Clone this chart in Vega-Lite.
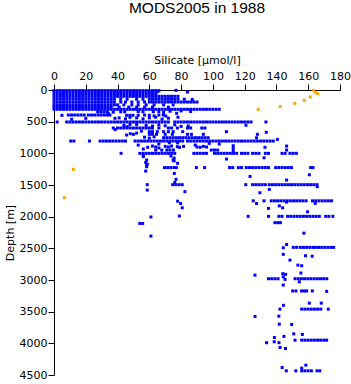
{
"$schema":"https://vega.github.io/schema/vega-lite/v6.json",
"width":286,"height":285,
"autosize":{"type":"none"},
"padding":{"left":54,"top":90,"right":11,"bottom":9},
"title":{"text":"MODS2005 in 1988","fontSize":15.5,"font":"Liberation Sans","fontWeight":"normal","color":"black","anchor":"middle","offset":38},
"config":{"view":{"stroke":null},"title":{"fontWeight":"normal","font":"Liberation Sans"},"axis":{"grid":false,"domainColor":"black","tickColor":"black","labelColor":"black","titleColor":"black","labelFont":"DejaVu Sans","titleFont":"DejaVu Sans","labelFontSize":11,"titleFontSize":11,"titleFontWeight":"normal","tickSize":6,"labelFlush":false,"labelOverlap":false}},
"datasets":{
"blue":[
{"si":0,"depth":10},{"si":2,"depth":10},{"si":4,"depth":10},{"si":6,"depth":10},{"si":8,"depth":10},{"si":10,"depth":10},{"si":12,"depth":10},{"si":14,"depth":10},{"si":16,"depth":10},{"si":18,"depth":10},{"si":20,"depth":10},{"si":22,"depth":10},{"si":24,"depth":10},{"si":26,"depth":10},{"si":28,"depth":10},{"si":30,"depth":10},{"si":32,"depth":10},{"si":34,"depth":10},{"si":36,"depth":10},{"si":38,"depth":10},{"si":40,"depth":10},{"si":42,"depth":10},{"si":44,"depth":10},{"si":46,"depth":10},{"si":48,"depth":10},{"si":50,"depth":10},{"si":52,"depth":10},{"si":54,"depth":10},{"si":56,"depth":10},{"si":58,"depth":10},{"si":60,"depth":10},{"si":62,"depth":10},{"si":64,"depth":10},{"si":66,"depth":10},
{"si":65,"depth":30},{"si":76.8,"depth":5},{"si":84,"depth":32},
{"si":0,"depth":55},{"si":2,"depth":55},{"si":4,"depth":55},{"si":6,"depth":55},{"si":8,"depth":55},{"si":10,"depth":55},{"si":12,"depth":55},{"si":14,"depth":55},{"si":16,"depth":55},{"si":18,"depth":55},{"si":20,"depth":55},{"si":22,"depth":55},{"si":24,"depth":55},{"si":26,"depth":55},{"si":28,"depth":55},{"si":30,"depth":55},{"si":32,"depth":55},{"si":34,"depth":55},{"si":36,"depth":55},{"si":38,"depth":55},{"si":40,"depth":55},{"si":42,"depth":55},{"si":44,"depth":55},{"si":46,"depth":55},{"si":48,"depth":55},{"si":50,"depth":55},{"si":52,"depth":55},{"si":54,"depth":55},{"si":56,"depth":55},{"si":58,"depth":55},{"si":60,"depth":55},{"si":62,"depth":55},{"si":64,"depth":55},
{"si":0,"depth":100},{"si":2,"depth":100},{"si":4,"depth":100},{"si":6,"depth":100},{"si":8,"depth":100},{"si":10,"depth":100},{"si":12,"depth":100},{"si":14,"depth":100},{"si":16,"depth":100},{"si":18,"depth":100},{"si":20,"depth":100},{"si":22,"depth":100},{"si":24,"depth":100},{"si":26,"depth":100},{"si":28,"depth":100},{"si":30,"depth":100},{"si":32,"depth":100},{"si":34,"depth":100},{"si":36,"depth":100},{"si":38,"depth":100},{"si":40,"depth":100},{"si":42,"depth":100},{"si":44,"depth":100},{"si":46,"depth":100},{"si":48,"depth":100},{"si":50,"depth":100},{"si":52,"depth":100},{"si":54,"depth":100},{"si":56,"depth":100},{"si":58,"depth":100},{"si":60,"depth":100},{"si":62,"depth":100},{"si":64,"depth":100},{"si":66,"depth":100},{"si":68,"depth":100},{"si":70,"depth":100},{"si":72,"depth":100},{"si":74,"depth":100},{"si":76,"depth":100},{"si":78,"depth":100},
{"si":0,"depth":145},{"si":2,"depth":145},{"si":4,"depth":145},{"si":6,"depth":145},{"si":8,"depth":145},{"si":10,"depth":145},{"si":12,"depth":145},{"si":14,"depth":145},{"si":16,"depth":145},{"si":18,"depth":145},{"si":20,"depth":145},{"si":22,"depth":145},{"si":24,"depth":145},{"si":26,"depth":145},{"si":28,"depth":145},{"si":30,"depth":145},{"si":32,"depth":145},{"si":34,"depth":145},{"si":36,"depth":145},{"si":38,"depth":145},{"si":42,"depth":145},{"si":46,"depth":145},{"si":52,"depth":145},{"si":56,"depth":145},{"si":60,"depth":145},{"si":62,"depth":145},{"si":64,"depth":145},{"si":66,"depth":145},{"si":68,"depth":145},{"si":70,"depth":145},{"si":72,"depth":145},{"si":74,"depth":145},{"si":76,"depth":145},{"si":78,"depth":145},{"si":82,"depth":145},{"si":87,"depth":150},
{"si":0,"depth":190},{"si":2,"depth":190},{"si":4,"depth":190},{"si":6,"depth":190},{"si":8,"depth":190},{"si":10,"depth":190},{"si":12,"depth":190},{"si":14,"depth":190},{"si":16,"depth":190},{"si":18,"depth":190},{"si":20,"depth":190},{"si":22,"depth":190},{"si":24,"depth":190},{"si":26,"depth":190},{"si":28,"depth":190},{"si":30,"depth":190},{"si":32,"depth":190},{"si":34,"depth":190},{"si":36,"depth":190},{"si":38,"depth":190},{"si":42,"depth":190},{"si":45,"depth":190},{"si":49,"depth":190},{"si":53,"depth":190},{"si":57,"depth":190},{"si":60,"depth":190},{"si":62,"depth":190},{"si":64,"depth":190},{"si":66,"depth":190},{"si":68,"depth":190},{"si":70,"depth":190},{"si":72,"depth":190},{"si":74,"depth":190},{"si":76,"depth":190},{"si":78,"depth":190},{"si":80,"depth":190},{"si":82,"depth":190},{"si":84,"depth":190},{"si":86,"depth":190},{"si":88,"depth":190},{"si":90,"depth":190},
{"si":0,"depth":235},{"si":2,"depth":235},{"si":4,"depth":235},{"si":6,"depth":235},{"si":8,"depth":235},{"si":10,"depth":235},{"si":12,"depth":235},{"si":14,"depth":235},{"si":16,"depth":235},{"si":18,"depth":235},{"si":20,"depth":235},{"si":22,"depth":235},{"si":24,"depth":235},{"si":26,"depth":235},{"si":28,"depth":235},{"si":30,"depth":235},{"si":32,"depth":235},{"si":34,"depth":235},{"si":36,"depth":235},{"si":38,"depth":235},{"si":40,"depth":235},{"si":44,"depth":235},{"si":49,"depth":235},{"si":53,"depth":235},{"si":58,"depth":235},{"si":63,"depth":235},{"si":69,"depth":235},{"si":75,"depth":235},
{"si":0,"depth":270},{"si":2,"depth":270},{"si":4,"depth":270},{"si":6,"depth":270},{"si":8,"depth":270},{"si":10,"depth":270},{"si":12,"depth":270},{"si":14,"depth":270},{"si":16,"depth":270},{"si":18,"depth":270},{"si":20,"depth":270},{"si":22,"depth":270},{"si":24,"depth":270},{"si":26,"depth":270},{"si":28,"depth":270},{"si":30,"depth":270},{"si":32,"depth":270},{"si":34,"depth":270},{"si":36,"depth":270},{"si":41,"depth":270},{"si":47,"depth":270},{"si":52,"depth":270},{"si":57,"depth":270},{"si":62,"depth":270},{"si":72,"depth":270},
{"si":0,"depth":305},{"si":2,"depth":305},{"si":4,"depth":305},{"si":6,"depth":305},{"si":8,"depth":305},{"si":10,"depth":305},{"si":12,"depth":305},{"si":14,"depth":305},{"si":16,"depth":305},{"si":18,"depth":305},{"si":20,"depth":305},{"si":22,"depth":305},{"si":24,"depth":305},{"si":26,"depth":305},{"si":28,"depth":305},{"si":30,"depth":305},{"si":32,"depth":305},{"si":34,"depth":305},{"si":36,"depth":305},{"si":38,"depth":305},{"si":40,"depth":305},{"si":42,"depth":305},{"si":44,"depth":305},{"si":46,"depth":305},{"si":48,"depth":305},{"si":50,"depth":305},{"si":52,"depth":305},{"si":54,"depth":305},{"si":56,"depth":305},{"si":58,"depth":305},{"si":60,"depth":305},{"si":62,"depth":305},{"si":64,"depth":305},{"si":66,"depth":305},{"si":68,"depth":305},{"si":70,"depth":305},{"si":72,"depth":305},{"si":74,"depth":305},{"si":76,"depth":305},{"si":78,"depth":305},{"si":80,"depth":305},{"si":82,"depth":305},{"si":84,"depth":305},{"si":86,"depth":305},{"si":88,"depth":305},{"si":90,"depth":305},{"si":92,"depth":305},{"si":94,"depth":305},{"si":96,"depth":305},{"si":98,"depth":305},{"si":100,"depth":305},{"si":102,"depth":305},{"si":104,"depth":305},
{"si":27.5,"depth":345},{"si":29.5,"depth":345},{"si":31.5,"depth":345},{"si":33.5,"depth":345},{"si":37.3,"depth":350},{"si":42,"depth":345},{"si":44.5,"depth":345},{"si":53,"depth":340},{"si":56,"depth":345},{"si":62.5,"depth":343},{"si":66,"depth":340},{"si":69,"depth":355},{"si":73,"depth":335},{"si":77.2,"depth":368},{"si":80,"depth":330},{"si":86,"depth":340},{"si":34.2,"depth":370},
{"si":5,"depth":400},{"si":9,"depth":395},{"si":11,"depth":395},{"si":13,"depth":395},{"si":15,"depth":395},{"si":17,"depth":395},{"si":19,"depth":395},{"si":21.6,"depth":395},{"si":23.6,"depth":395},{"si":25.6,"depth":395},{"si":27.7,"depth":395},{"si":29.7,"depth":395},{"si":31.7,"depth":395},{"si":33.7,"depth":395},{"si":35.2,"depth":395},{"si":45.7,"depth":400},{"si":47.7,"depth":400},{"si":49.7,"depth":400},{"si":53,"depth":400},{"si":57,"depth":395},{"si":60,"depth":400},{"si":63,"depth":410},{"si":66,"depth":395},{"si":68.8,"depth":395},{"si":70.3,"depth":410},
{"si":11.1,"depth":463},{"si":20,"depth":447},{"si":38.4,"depth":447},{"si":41,"depth":440},{"si":45,"depth":455},{"si":47.8,"depth":432},{"si":52,"depth":440},{"si":56,"depth":455},{"si":60,"depth":440},{"si":64,"depth":430},{"si":68,"depth":460},{"si":72,"depth":445},{"si":78,"depth":430},
{"si":2,"depth":505},{"si":8,"depth":505},{"si":10,"depth":505},{"si":12,"depth":505},{"si":14,"depth":505},{"si":16,"depth":505},{"si":18,"depth":505},{"si":20,"depth":505},{"si":22,"depth":505},{"si":24,"depth":505},{"si":26,"depth":505},{"si":28,"depth":505},{"si":30,"depth":505},{"si":32,"depth":505},{"si":34,"depth":505},{"si":36,"depth":505},{"si":38,"depth":505},{"si":40,"depth":505},{"si":42,"depth":505},{"si":44,"depth":505},{"si":46,"depth":505},{"si":48,"depth":505},{"si":50,"depth":505},{"si":52,"depth":505},{"si":54,"depth":505},{"si":56,"depth":505},{"si":58,"depth":505},{"si":60,"depth":505},{"si":62,"depth":505},{"si":64,"depth":505},{"si":66,"depth":505},{"si":68,"depth":505},{"si":70,"depth":505},{"si":72,"depth":505},{"si":76,"depth":505},{"si":78,"depth":505},{"si":80,"depth":505},{"si":82,"depth":505},{"si":84,"depth":505},{"si":86,"depth":505},{"si":88,"depth":505},{"si":90,"depth":505},{"si":92,"depth":505},{"si":94,"depth":505},{"si":96,"depth":505},{"si":98,"depth":505},{"si":100,"depth":505},{"si":102,"depth":505},{"si":104,"depth":505},{"si":106,"depth":505},{"si":108,"depth":505},{"si":110,"depth":505},{"si":112,"depth":505},{"si":114,"depth":505},{"si":116,"depth":505},{"si":118,"depth":505},{"si":120,"depth":505},{"si":122,"depth":505},{"si":124,"depth":505},{"si":133.4,"depth":505},
{"si":44,"depth":560},{"si":46,"depth":580},{"si":47.8,"depth":545},{"si":52,"depth":545},{"si":58,"depth":560},{"si":62,"depth":570},{"si":66,"depth":550},{"si":70,"depth":565},{"si":76,"depth":550},{"si":80,"depth":575},{"si":84.5,"depth":569},{"si":120.8,"depth":557},
{"si":37.3,"depth":600},{"si":40,"depth":600},{"si":42,"depth":600},{"si":44,"depth":600},{"si":46,"depth":600},{"si":48,"depth":600},{"si":50,"depth":600},{"si":52,"depth":600},{"si":54,"depth":600},{"si":56,"depth":600},{"si":58,"depth":600},{"si":60,"depth":600},{"si":62,"depth":600},{"si":66,"depth":600},{"si":72,"depth":600},{"si":74,"depth":600},{"si":77.6,"depth":600},{"si":84,"depth":600},{"si":86,"depth":600},{"si":93,"depth":600},{"si":95,"depth":600},{"si":38.5,"depth":625},
{"si":60,"depth":658},{"si":62,"depth":658},{"si":65,"depth":658},{"si":69,"depth":658},{"si":72,"depth":658},{"si":75,"depth":658},{"si":81,"depth":658},{"si":108.5,"depth":658},{"si":60,"depth":700},{"si":62,"depth":700},{"si":64.5,"depth":700},{"si":70,"depth":700},{"si":74.5,"depth":700},{"si":84,"depth":700},{"si":86.5,"depth":700},{"si":94,"depth":700},{"si":128,"depth":700},{"si":133.6,"depth":668},{"si":45.7,"depth":711},{"si":48,"depth":690},{"si":50,"depth":700},{"si":55,"depth":650},{"si":52,"depth":680},
{"si":69,"depth":753},{"si":71,"depth":753},{"si":73,"depth":753},{"si":75,"depth":753},{"si":77,"depth":753},{"si":79,"depth":753},{"si":81,"depth":753},{"si":83,"depth":753},{"si":85,"depth":753},{"si":87,"depth":753},{"si":89,"depth":753},{"si":91,"depth":753},{"si":93,"depth":753},{"si":95,"depth":753},{"si":97,"depth":753},{"si":127.5,"depth":755},{"si":57,"depth":745},{"si":60,"depth":760},{"si":63,"depth":740},{"si":140.6,"depth":780},
{"si":10.5,"depth":806},{"si":12.5,"depth":806},{"si":22.3,"depth":806},{"si":29,"depth":806},{"si":31,"depth":806},{"si":33,"depth":806},{"si":35,"depth":806},{"si":37,"depth":806},{"si":39,"depth":806},{"si":41,"depth":806},{"si":43,"depth":806},{"si":45,"depth":806},{"si":51,"depth":806},{"si":53,"depth":806},{"si":55,"depth":806},{"si":57,"depth":806},{"si":59,"depth":806},{"si":61,"depth":806},{"si":63,"depth":806},{"si":65,"depth":806},{"si":67,"depth":806},{"si":69,"depth":806},{"si":71,"depth":806},{"si":73,"depth":806},{"si":75,"depth":806},{"si":77,"depth":806},{"si":79,"depth":806},{"si":81,"depth":806},{"si":84,"depth":806},{"si":86,"depth":806},{"si":88,"depth":806},{"si":90,"depth":806},{"si":92,"depth":806},{"si":94,"depth":806},{"si":96,"depth":806},{"si":98,"depth":806},{"si":100,"depth":806},{"si":102,"depth":806},{"si":104,"depth":806},{"si":106,"depth":806},{"si":108,"depth":806},{"si":110,"depth":806},{"si":112,"depth":806},{"si":114,"depth":806},{"si":116,"depth":806},{"si":118,"depth":806},{"si":120,"depth":806},{"si":122,"depth":806},{"si":124,"depth":806},{"si":126,"depth":806},{"si":128,"depth":806},{"si":130,"depth":806},{"si":132,"depth":806},{"si":134,"depth":806},{"si":136,"depth":806},{"si":138,"depth":806},
{"si":66,"depth":853},{"si":72.6,"depth":833},{"si":77.8,"depth":835},{"si":88.9,"depth":870},{"si":97.7,"depth":843},{"si":104,"depth":853},{"si":53,"depth":870},{"si":59,"depth":905},{"si":56.2,"depth":932},{"si":62,"depth":885},{"si":64,"depth":900},{"si":66,"depth":915},{"si":70,"depth":890},{"si":72,"depth":900},{"si":74,"depth":885},{"si":77.6,"depth":895},{"si":79,"depth":905},{"si":81.5,"depth":890},{"si":90,"depth":900},{"si":92,"depth":905},{"si":94,"depth":890},{"si":96,"depth":900},{"si":67.8,"depth":948},{"si":64,"depth":948},{"si":71,"depth":948},{"si":73,"depth":948},{"si":75.2,"depth":948},{"si":99,"depth":948},{"si":101,"depth":948},{"si":103,"depth":948},{"si":112.8,"depth":880},{"si":112.8,"depth":920},{"si":112.8,"depth":960},{"si":132.8,"depth":905},{"si":146.4,"depth":885},{"si":146.4,"depth":948},
{"si":42.2,"depth":1000},{"si":54,"depth":1000},{"si":56,"depth":1000},{"si":58,"depth":1000},{"si":60,"depth":1000},{"si":62,"depth":1000},{"si":64,"depth":1000},{"si":66,"depth":1000},{"si":68,"depth":1000},{"si":70,"depth":1000},{"si":72,"depth":1000},{"si":74,"depth":1000},{"si":76,"depth":1000},{"si":88,"depth":1000},{"si":90,"depth":1000},{"si":92,"depth":1000},{"si":94,"depth":1000},{"si":96,"depth":1000},{"si":101,"depth":1000},{"si":103,"depth":1000},{"si":105,"depth":1000},{"si":107,"depth":1000},{"si":109,"depth":1000},{"si":111,"depth":1000},{"si":113,"depth":1000},{"si":115,"depth":1000},{"si":118,"depth":1000},{"si":120,"depth":1000},{"si":122,"depth":1000},{"si":125,"depth":1000},{"si":127,"depth":1000},{"si":129,"depth":1000},{"si":133,"depth":1000},{"si":135,"depth":1000},{"si":143.5,"depth":1000},{"si":145.5,"depth":1000},{"si":148.5,"depth":1000},{"si":150.5,"depth":1000},{"si":152.5,"depth":1000},
{"si":56.2,"depth":1027},{"si":56.2,"depth":1053},{"si":73.6,"depth":1043},{"si":75.6,"depth":1075},{"si":75,"depth":1106},{"si":75.6,"depth":1120},{"si":58.3,"depth":1106},{"si":57.7,"depth":1143},{"si":58.7,"depth":1170},{"si":58.3,"depth":1185},{"si":58.3,"depth":1212},{"si":57.7,"depth":1280},{"si":108.6,"depth":1090},{"si":132.2,"depth":1070},{"si":77.8,"depth":1158},
{"si":69.5,"depth":1225},{"si":71.5,"depth":1225},{"si":73.5,"depth":1225},{"si":75.5,"depth":1225},{"si":77,"depth":1225},{"si":89.6,"depth":1225},{"si":94.8,"depth":1225},{"si":110.5,"depth":1225},{"si":112.5,"depth":1225},{"si":116,"depth":1225},{"si":118,"depth":1225},{"si":121,"depth":1225},{"si":123,"depth":1225},{"si":125,"depth":1225},{"si":127,"depth":1225},{"si":129,"depth":1225},{"si":131,"depth":1225},{"si":133,"depth":1225},{"si":135,"depth":1225},{"si":139.5,"depth":1225},{"si":141.5,"depth":1225},{"si":143.5,"depth":1225},{"si":145.5,"depth":1225},{"si":147.5,"depth":1225},{"si":149.5,"depth":1225},{"si":161.5,"depth":1225},{"si":163,"depth":1225},
{"si":75.7,"depth":1317},{"si":123.4,"depth":1365},{"si":160.7,"depth":1338},{"si":76.8,"depth":1411},{"si":76,"depth":1460},{"si":146.4,"depth":1422},
{"si":58.7,"depth":1495},{"si":74.7,"depth":1495},{"si":76.7,"depth":1495},{"si":78.7,"depth":1495},{"si":80.7,"depth":1495},{"si":120.7,"depth":1495},{"si":125,"depth":1495},{"si":127,"depth":1495},{"si":129,"depth":1495},{"si":131,"depth":1495},{"si":133,"depth":1495},{"si":135.5,"depth":1495},{"si":137.5,"depth":1495},{"si":139.5,"depth":1495},{"si":141.5,"depth":1495},{"si":143.5,"depth":1495},{"si":145.5,"depth":1495},{"si":147.5,"depth":1495},{"si":149.5,"depth":1495},{"si":151.5,"depth":1495},{"si":153.5,"depth":1495},{"si":155.5,"depth":1495},{"si":157.5,"depth":1495},{"si":159.5,"depth":1495},{"si":161.5,"depth":1495},{"si":163.5,"depth":1495},{"si":165.5,"depth":1495},
{"si":58.7,"depth":1580},{"si":135.5,"depth":1570},{"si":82.4,"depth":1605},{"si":129.6,"depth":1622},{"si":165.7,"depth":1527},
{"si":77.8,"depth":1755},{"si":79.7,"depth":1792},{"si":80.7,"depth":1860},{"si":125.4,"depth":1750},{"si":127.5,"depth":1792},{"si":132.2,"depth":1750},{"si":136.7,"depth":1750},{"si":138.7,"depth":1750},{"si":140.7,"depth":1750},{"si":142.7,"depth":1750},{"si":144.7,"depth":1750},{"si":146.7,"depth":1750},{"si":148.7,"depth":1750},{"si":150.7,"depth":1750},{"si":152.7,"depth":1750},{"si":154.7,"depth":1750},{"si":156.7,"depth":1750},{"si":158.7,"depth":1750},{"si":162.7,"depth":1750},{"si":164.7,"depth":1750},{"si":166.7,"depth":1750},{"si":168.7,"depth":1750},{"si":170.7,"depth":1750},{"si":172.7,"depth":1750},{"si":174.7,"depth":1750},{"si":146.4,"depth":1770},{"si":164.4,"depth":1790},{"si":141.8,"depth":1830},{"si":143.9,"depth":1860},{"si":135,"depth":1870},{"si":159.6,"depth":1923},
{"si":61,"depth":2005},{"si":78.9,"depth":1990},{"si":122.2,"depth":1995},{"si":135,"depth":1995},{"si":141.5,"depth":1995},{"si":143.5,"depth":1995},{"si":147,"depth":1995},{"si":149,"depth":1995},{"si":151,"depth":1995},{"si":153,"depth":1995},{"si":155,"depth":1995},{"si":157,"depth":1995},{"si":159,"depth":1995},{"si":161,"depth":1995},{"si":163,"depth":1995},{"si":165,"depth":1995},{"si":167,"depth":1995},{"si":171,"depth":1995},{"si":173,"depth":1995},{"si":175.5,"depth":1995},
{"si":54,"depth":2107},{"si":55.8,"depth":2107},{"si":139,"depth":2095},{"si":140.8,"depth":2095},{"si":142.5,"depth":2095},{"si":61,"depth":2307},{"si":157.3,"depth":2260},{"si":146.4,"depth":2440},{"si":144.3,"depth":2490},
{"si":150.6,"depth":2485},{"si":152.7,"depth":2485},{"si":155,"depth":2485},{"si":157,"depth":2485},{"si":159,"depth":2485},{"si":161,"depth":2485},{"si":163,"depth":2485},{"si":164.5,"depth":2485},{"si":166.5,"depth":2485},{"si":168.5,"depth":2485},{"si":170.5,"depth":2485},{"si":172.5,"depth":2485},{"si":174.5,"depth":2485},{"si":176,"depth":2485},
{"si":144.3,"depth":2595},{"si":158.3,"depth":2617},{"si":162.5,"depth":2624},{"si":148.5,"depth":2686},{"si":153.5,"depth":2765},{"si":155.9,"depth":2775},
{"si":126.5,"depth":2923},{"si":144,"depth":2900},{"si":145.8,"depth":2910},{"si":155.4,"depth":2890},{"si":144.3,"depth":2950},
{"si":135,"depth":2980},{"si":137,"depth":2980},{"si":139,"depth":2980},{"si":141,"depth":2980},{"si":145.4,"depth":2990},{"si":151.7,"depth":2980},{"si":153.7,"depth":2980},{"si":155.7,"depth":2980},{"si":157.7,"depth":2980},{"si":159.7,"depth":2980},{"si":161.7,"depth":2980},{"si":163.7,"depth":2980},{"si":165.7,"depth":2980},{"si":167.7,"depth":2980},{"si":169.7,"depth":2980},{"si":171.7,"depth":2980},
{"si":154.4,"depth":3029},{"si":144.3,"depth":3080},
{"si":150.2,"depth":3173},{"si":152.3,"depth":3173},{"si":155.8,"depth":3173},{"si":157.5,"depth":3173},{"si":159,"depth":3173},{"si":162.6,"depth":3173},{"si":171.6,"depth":3180},
{"si":160.7,"depth":3365},{"si":168.2,"depth":3365},{"si":144.4,"depth":3400},
{"si":142.2,"depth":3460},{"si":155.9,"depth":3460},{"si":157.9,"depth":3460},{"si":159.9,"depth":3460},{"si":161.9,"depth":3460},{"si":163.9,"depth":3460},{"si":165.9,"depth":3460},{"si":167.9,"depth":3460},{"si":172.6,"depth":3460},
{"si":126.5,"depth":3576},{"si":141.5,"depth":3571},{"si":141.8,"depth":3697},{"si":149.6,"depth":3702},
{"si":150.9,"depth":3850},{"si":156.3,"depth":3860},{"si":138.7,"depth":3908},{"si":144.7,"depth":3890},
{"si":151.7,"depth":3950},{"si":155.9,"depth":3950},{"si":157.9,"depth":3950},{"si":159.9,"depth":3950},{"si":161.9,"depth":3950},{"si":163.9,"depth":3950},{"si":165.9,"depth":3950},{"si":167.8,"depth":3950},{"si":169.8,"depth":3950},{"si":171.6,"depth":3950},
{"si":133.8,"depth":3990},{"si":138.6,"depth":3975},{"si":141.6,"depth":3990},{"si":142.3,"depth":4066},{"si":145.7,"depth":4082},
{"si":158.5,"depth":4345},{"si":143.6,"depth":4382},{"si":155.9,"depth":4392},
{"si":146.2,"depth":4434},{"si":152.2,"depth":4434},{"si":155.9,"depth":4434},{"si":157.9,"depth":4434},{"si":159.9,"depth":4434},{"si":162,"depth":4434},{"si":165.5,"depth":4434},{"si":167.3,"depth":4434}
],
"orange":[
{"si":128.5,"depth":305},{"si":142.4,"depth":262},{"si":151.5,"depth":210},{"si":157.5,"depth":163},{"si":161.3,"depth":110},{"si":163.4,"depth":5},{"si":164.5,"depth":36},{"si":166,"depth":58},{"si":12.2,"depth":1253},{"si":6.5,"depth":1700}
]
},
"encoding":{
"x":{"field":"si","type":"quantitative","scale":{"domain":[0,180],"nice":false,"zero":false},"axis":{"orient":"top","values":[0,20,40,60,80,100,120,140,160,180],"format":"d","title":"Silicate [µmol/l]","labelPadding":3,"titlePadding":5}},
"y":{"field":"depth","type":"quantitative","scale":{"domain":[0,4500],"nice":false,"reverse":true},"axis":{"values":[0,500,1000,1500,2000,2500,3000,3500,4000,4500],"format":"d","title":"Depth [m]","labelPadding":1,"titlePadding":4}}
},
"layer":[
{"data":{"name":"blue"},"mark":{"type":"point","shape":"square","filled":true,"size":9,"color":"#0000ff","opacity":1,"strokeWidth":0}},
{"data":{"name":"orange"},"mark":{"type":"point","shape":"square","filled":true,"size":9,"color":"#ffa500","opacity":1,"strokeWidth":0}}
]
}
